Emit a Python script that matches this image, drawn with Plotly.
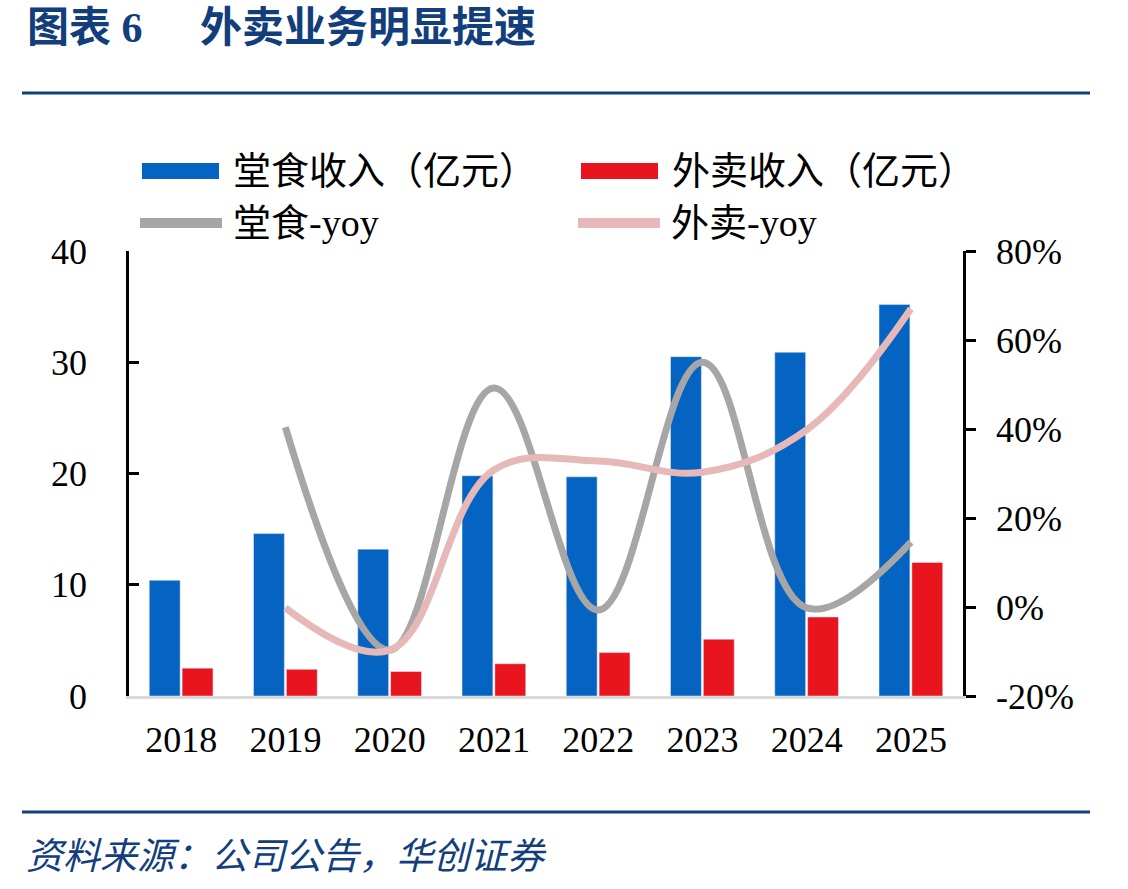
import plotly.graph_objects as go

years = ["2018", "2019", "2020", "2021", "2022", "2023", "2024", "2025"]
dine_in_rev = [10.4, 14.6, 13.2, 19.8, 19.7, 30.5, 30.9, 35.2]
delivery_rev = [2.5, 2.4, 2.2, 2.9, 3.9, 5.1, 7.1, 12.0]
dine_in_yoy = [None, 0.404, -0.097, 0.492, -0.007, 0.550, -0.002, 0.146]
delivery_yoy = [None, -0.002, -0.097, 0.308, 0.328, 0.303, 0.398, 0.670]
left_ticks = [0, 10, 20, 30, 40]
right_ticks = [-0.2, 0.0, 0.2, 0.4, 0.6, 0.8]
right_tick_labels = ["-20%", "0%", "20%", "40%", "60%", "80%"]

W, H = 1128, 889
L, R, T, B = 129, 963, 251, 696


def px(x):
    return (x - L) / (R - L)


def py(y):
    return (B - y) / (B - T)


NAVY = "#123E7C"
BLUE = "#0563C1"
RED = "#E8141E"
GRAY = "#A6A6A6"
PINK = "#E6B8B7"
SERIF = "Liberation Serif, Times New Roman, serif"
CJK = "Liberation Serif, Noto Sans CJK SC, serif"

fig = go.Figure()
fig.add_bar(x=years, y=dine_in_rev, name="堂食收入（亿元）", marker_color=BLUE, showlegend=False)
fig.add_bar(x=years, y=delivery_rev, name="外卖收入（亿元）", marker_color=RED, showlegend=False)
fig.add_scatter(x=years, y=dine_in_yoy, name="堂食-yoy", mode="lines", yaxis="y2",
                line=dict(color=GRAY, width=7, shape="spline", smoothing=1.1),
                connectgaps=False, showlegend=False)
fig.add_scatter(x=years, y=delivery_yoy, name="外卖-yoy", mode="lines", yaxis="y2",
                line=dict(color=PINK, width=7, shape="spline", smoothing=1.1),
                connectgaps=False, showlegend=False)

fig.update_layout(
    width=W, height=H,
    margin=dict(l=L, r=W - R, t=T, b=H - B),
    paper_bgcolor="white", plot_bgcolor="white",
    barmode="group", bargap=0.37, bargroupgap=0.06,
    font=dict(family=SERIF, color="black", size=36),
    xaxis=dict(range=[-0.5, 7.5], showline=True, linecolor="#D9D9D9", linewidth=3,
               ticks="", showgrid=False, zeroline=False,
               tickfont=dict(family=SERIF, size=36), ticklabelstandoff=10),
    yaxis=dict(range=[0, 40], tickvals=left_ticks, showline=True, linecolor="black", linewidth=2.5,
               ticks="inside", ticklen=10, tickwidth=2.5, tickcolor="black",
               showgrid=False, zeroline=False,
               tickfont=dict(family=SERIF, size=36), ticklabelstandoff=32),
    yaxis2=dict(range=[-0.2, 0.8], tickvals=right_ticks, ticktext=right_tick_labels,
                overlaying="y", side="right",
                showline=True, linecolor="black", linewidth=2.5,
                ticks="outside", ticklen=10, tickwidth=2.5, tickcolor="black",
                showgrid=False, zeroline=False,
                tickfont=dict(family=SERIF, size=36), ticklabelstandoff=13),
)

shapes = []
annotations = []

# header / footer rules
shapes.append(dict(type="line", xref="paper", yref="paper", x0=px(22), x1=px(1090),
                   y0=py(93), y1=py(93), line=dict(color=NAVY, width=3)))
shapes.append(dict(type="line", xref="paper", yref="paper", x0=px(22), x1=px(1090),
                   y0=py(812), y1=py(812), line=dict(color=NAVY, width=3)))

annotations.append(dict(text="<b>图表 6</b>", xref="paper", yref="paper", x=px(25), y=py(28),
                        xanchor="left", yanchor="middle", showarrow=False,
                        font=dict(family=CJK, size=42, color=NAVY)))
annotations.append(dict(text="<b>外卖业务明显提速</b>", xref="paper", yref="paper", x=px(198), y=py(28),
                        xanchor="left", yanchor="middle", showarrow=False,
                        font=dict(family=CJK, size=42, color=NAVY)))
annotations.append(dict(text="<i>资料来源：公司公告，华创证券</i>", xref="paper", yref="paper",
                        x=px(24), y=py(856), xanchor="left", yanchor="middle", showarrow=False,
                        font=dict(family=CJK, size=37, color=NAVY)))

# legend
legend_items = [
    ("rect", BLUE, "堂食收入（亿元）", 142, 171),
    ("rect", RED, "外卖收入（亿元）", 581, 171),
    ("line", GRAY, "堂食-yoy", 142, 223),
    ("line", PINK, "外卖-yoy", 580, 223),
]
for kind, color, label, x0, yc in legend_items:
    if kind == "rect":
        shapes.append(dict(type="rect", xref="paper", yref="paper", x0=px(x0), x1=px(x0 + 77),
                           y0=py(yc + 8), y1=py(yc - 8), fillcolor=color, line=dict(width=0)))
    else:
        shapes.append(dict(type="line", xref="paper", yref="paper", x0=px(x0 - 2), x1=px(x0 + 80),
                           y0=py(yc), y1=py(yc), line=dict(color=color, width=10)))
    annotations.append(dict(text=label, xref="paper", yref="paper", x=px(x0 + 89), y=py(yc),
                            xanchor="left", yanchor="middle", showarrow=False,
                            font=dict(family=CJK, size=38, color="black")))

fig.update_layout(shapes=shapes, annotations=annotations)
fig.write_html("out.html")
